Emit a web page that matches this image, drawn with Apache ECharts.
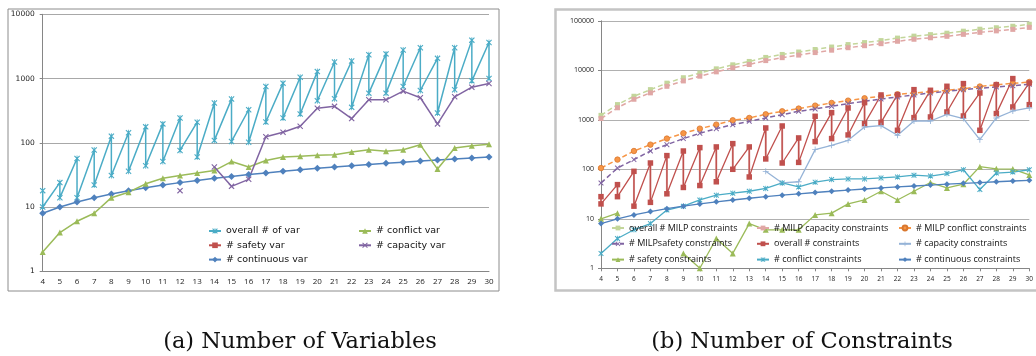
<!DOCTYPE html>
<html><head><meta charset="utf-8">
<script src="https://cdn.jsdelivr.net/npm/echarts@6/dist/echarts.min.js"></script>
<style>html,body{margin:0;padding:0;background:#fff}#c{width:1036px;height:356px}</style>
</head><body><div id="c"></div>
<script>
// ---------- categories ----------
const nValues = [4,5,6,7,8,9,10,11,12,13,14,15,16,17,18,19,20,21,22,23,24,25,26,27,28,29,30];

// ---------- (a) Number of Variables ----------
const varOverallHigh = [18,24,57,77,127,143,177,197,244,209,416,479,327,752,848,1047,1282,1811,1876,2350,2420,2774,3015,2062,3015,3963,3648];
const varOverallLow  = [10,14,14,22,31,36,44,51,76,60,109,105,102,211,244,281,452,486,356,593,593,752,652,291,668,921,1000];
const varSafety      = [];
const varContinuous  = [8,10,12,14,16,18,20,22,24,26,28,30,32,34,36,38,40,42,44,46,48,50,52,54,56,58,60];
const varConflict    = [2,4,6,8,14,17,23,28,31,34,37,51,42,53,60,62,64,65,72,78,74,78,93,39,83,90,95];
const varCapacity    = [null,null,null,null,null,null,null,null,18,null,42,21,27,124,146,181,344,369,238,467,467,637,503,197,520,734,837];

// ---------- (b) Number of Constraints ----------
const milpOverall    = [1230,2030,2990,4070,5500,7080,8810,10700,12900,15100,18200,20900,23400,26300,29500,33100,36300,39800,44700,49000,52500,56200,61700,67600,72400,77600,85100];
const milpCapacity   = [1060,1750,2600,3500,4750,6100,7600,9300,11200,13100,15700,18000,20300,22800,25500,28600,31400,34500,38600,42400,45400,48600,53300,58500,62600,67100,73600];
const milpConflict   = [106,157,234,315,417,534,663,798,977,1089,1291,1485,1683,1933,2188,2439,2718,2987,3275,3483,3700,3950,4250,4700,5100,5450,5800];
const milpSafety     = [53,106,157,234,315,417,534,663,798,933,1089,1271,1485,1656,1875,2124,2366,2636,2891,3175,3483,3766,4064,4325,4603,4898,5212];
const constrHigh     = [28,49,91,134,189,234,274,283,330,283,684,750,430,1178,1396,1734,2223,3175,3221,4064,3945,4753,5383,3483,5130,6798,5546];
const constrLow      = [20,28,18,21.5,32,43,47,56,100,70,162,134,138,362,417,494,838,889,614,1107,1141,1438,1195,614,1334,1815,2022];
const capConstr      = [null,null,null,null,null,null,null,null,null,null,91,53,56,250,305,385,716,762,486,946,946,1291,1057,397,1089,1507,1734];
const safetyConstr   = [10,13,null,null,null,2,1,4,2,8,6,6,6,12,13,20,24,36,24,36,54,42,50,113,102,101,77];
const conflictConstr = [2,4,6,8,15,18,24,30,33,36,41,53,44,55,62,64,64,67,70,76,73,82,98,39,84,88,98];
const contConstr     = [8,10,12,14,16,18,20,22,24,26,28,30,32,34,36,38,40,42,44,46,48,50,52,54,56,58,60];

const logTicks = [1,10,100,1000,10000,100000];

// ---------- helpers ----------
function pts(arr){ return nValues.map((n,i)=>[n, arr[i]==null ? '-' : arr[i]]); }
function zig(hi,lo){ const d=[]; nValues.forEach((n,i)=>{ d.push([n,hi[i]]); d.push([n,lo[i]]); }); return d; }
function verts(hi,lo){ const d=[]; nValues.forEach((n,i)=>{ d.push([n,hi[i]]); d.push([n,lo[i]]); d.push([n,'-']); }); return d; }

const P_X = 'M0,1.3L1.3,0L5,3.7L8.7,0L10,1.3L6.3,5L10,8.7L8.7,10L5,6.3L1.3,10L0,8.7L3.7,5Z';
const SYM_X = 'path://' + P_X;
const SYM_STAR = 'path://' + P_X + 'M4.35,0L5.65,0L5.65,10L4.35,10Z';
const SYM_PLUS = 'path://M4.3,0H5.7V4.3H10V5.7H5.7V10H4.3V5.7H0V4.3H4.3Z';

function ser(g, name, data, color, symbol, size, extra){
  const s = {
    name, type:'line', xAxisIndex:g, yAxisIndex:g, data,
    symbol, symbolSize:size, showSymbol:true, connectNulls:false,
    itemStyle:{color: color}, lineStyle:{color: color, width:1.5},
    emphasis:{disabled:true}, silent:true, clip:false
  };
  if (extra) {
    if (extra.lineStyle) Object.assign(s.lineStyle, extra.lineStyle);
    if (extra.itemStyle) Object.assign(s.itemStyle, extra.itemStyle);
    if (extra.z!=null) s.z = extra.z;
  }
  return s;
}

const logFmt = v => { const r = Math.round(v); return logTicks.indexOf(r) >= 0 ? String(r) : ''; };
const narrow = "'Liberation Sans Narrow', 'Open Sans', sans-serif";

const chart = echarts.init(document.getElementById('c'), null, {renderer:'canvas'});
const dash = [5,3];

chart.setOption({
  animation:false,
  backgroundColor:'#ffffff',
  grid:[
    {left:42.7, top:14.3, width:446.3, height:257},
    {left:601, top:20.8, width:435, height:247.5}
  ],
  xAxis:[
    {gridIndex:0, type:'value', min:4, max:30, interval:1,
     axisLine:{show:true, onZero:false, lineStyle:{color:'#868686', width:1}},
     axisTick:{show:false}, splitLine:{show:false},
     axisLabel:{fontSize:8, color:'#222', margin:6, fontFamily:narrow}},
    {gridIndex:1, type:'value', min:4, max:30, interval:1,
     axisLine:{show:true, onZero:false, lineStyle:{color:'#868686', width:1}},
     axisTick:{show:true, length:3, lineStyle:{color:'#868686'}}, splitLine:{show:false},
     axisLabel:{fontSize:6.5, color:'#222', margin:7, fontFamily:narrow}}
  ],
  yAxis:[
    {gridIndex:0, type:'log', logBase:10, min:1, max:10000,
     axisLine:{show:true, lineStyle:{color:'#868686', width:1}},
     axisTick:{show:true, length:3, lineStyle:{color:'#868686'}},
     splitLine:{show:true, lineStyle:{color:'#a8a8a8', width:1}},
     minorTick:{show:false},
     axisLabel:{fontSize:7.5, color:'#222', margin:8, fontFamily:'DejaVu Sans', formatter:logFmt}},
    {gridIndex:1, type:'log', logBase:10, min:1, max:100000,
     axisLine:{show:true, lineStyle:{color:'#868686', width:1}},
     axisTick:{show:true, length:3, lineStyle:{color:'#868686'}},
     splitLine:{show:true, lineStyle:{color:'#b0b0b0', width:1.2}},
     axisLabel:{fontSize:7, color:'#222', margin:7, fontFamily:narrow, formatter:logFmt}}
  ],
  legend:[
    {left:208, top:226, orient:'vertical', padding:0, itemWidth:12, itemHeight:7, itemGap:4.3, selectedMode:false,
     data:['overall # of var','# safety var','# continuous var'],
     textStyle:{fontSize:9.5, lineHeight:10, color:'#111', fontFamily:'DejaVu Sans'}},
    {left:358, top:226, orient:'vertical', padding:0, itemWidth:12, itemHeight:7, itemGap:4.3, selectedMode:false,
     data:['# conflict var','# capacity var'],
     textStyle:{fontSize:9.5, lineHeight:10, color:'#111', fontFamily:'DejaVu Sans'}},
    {left:611, top:222.5, orient:'vertical', padding:0, itemWidth:12, itemHeight:6, itemGap:4.8, selectedMode:false,
     data:['overall # MILP constraints','# MILPsafety constraints','# safety constraints'],
     textStyle:{fontSize:9, lineHeight:11, color:'#111', fontFamily:narrow}},
    {left:756, top:222.5, orient:'vertical', padding:0, itemWidth:12, itemHeight:6, itemGap:4.8, selectedMode:false,
     data:['# MILP capacity constraints','overall # constraints','# conflict constraints'],
     textStyle:{fontSize:9, lineHeight:11, color:'#111', fontFamily:narrow}},
    {left:898, top:222.5, orient:'vertical', padding:0, itemWidth:12, itemHeight:6, itemGap:4.8, selectedMode:false,
     data:['# MILP conflict constraints','# capacity constraints','# continuous constraints'],
     textStyle:{fontSize:9, lineHeight:11, color:'#111', fontFamily:narrow}}
  ],
  graphic:[
    {type:'rect', shape:{x:8, y:9, width:491, height:282}, style:{fill:'none', stroke:'#8c8c8c', lineWidth:1}, silent:true, z:-10},
    {type:'rect', shape:{x:555.5, y:9.5, width:500, height:281}, style:{fill:'none', stroke:'#c4c4c4', lineWidth:2.5}, silent:true, z:-10},
    {type:'text', x:300, y:342, style:{text:'(a) Number of Variables', textAlign:'center', textVerticalAlign:'middle', font:'22.5px "DejaVu Serif"', fill:'#111'}, silent:true},
    {type:'text', x:802, y:342, style:{text:'(b) Number of Constraints', textAlign:'center', textVerticalAlign:'middle', font:'22.5px "DejaVu Serif"', fill:'#111'}, silent:true}
  ],
  series:[
    // (a)
    ser(0,'overall # of var', zig(varOverallHigh,varOverallLow), '#4BACC6', SYM_STAR, 6),
    ser(0,'# safety var', pts(varSafety), '#C0504D', 'rect', 6),
    ser(0,'# continuous var', pts(varContinuous), '#4F81BD', 'diamond', 7),
    ser(0,'# conflict var', pts(varConflict), '#9BBB59', 'triangle', 6),
    ser(0,'# capacity var', pts(varCapacity), '#8064A2', SYM_X, 6),
    // (b)
    ser(1,'overall # MILP constraints', pts(milpOverall), '#C3D69B', 'rect', 5, {lineStyle:{type:dash, width:1.5}}),
    ser(1,'# MILP capacity constraints', pts(milpCapacity), '#E0A7A5', 'rect', 5, {lineStyle:{type:dash, width:1.5}}),
    ser(1,'# MILP conflict constraints', pts(milpConflict), '#F79646', 'circle', 5.5, {lineStyle:{type:dash, width:1.5}, itemStyle:{borderColor:'#D9772E', borderWidth:0.8}}),
    ser(1,'# MILPsafety constraints', pts(milpSafety), '#8064A2', SYM_X, 5.5, {lineStyle:{type:dash, width:1.5}}),
    ser(1,'overall # constraints', zig(constrHigh,constrLow), '#C0504D', 'rect', 5.5, {lineStyle:{width:1.3}}),
    {type:'line', xAxisIndex:1, yAxisIndex:1, data:verts(constrHigh,constrLow), showSymbol:false, symbol:'none',
     connectNulls:false, lineStyle:{color:'#DDA3A1', width:2}, silent:true, z:2.5},
    ser(1,'# capacity constraints', pts(capConstr), '#95B3D7', SYM_PLUS, 6, {lineStyle:{width:1.3}}),
    ser(1,'# safety constraints', pts(safetyConstr), '#9BBB59', 'triangle', 6, {lineStyle:{width:1.3}}),
    ser(1,'# conflict constraints', pts(conflictConstr), '#4BACC6', SYM_STAR, 5.5, {lineStyle:{width:1.3}}),
    ser(1,'# continuous constraints', pts(contConstr), '#4F81BD', 'diamond', 6, {lineStyle:{width:1.3}})
  ]
});
</script>
</body></html>
